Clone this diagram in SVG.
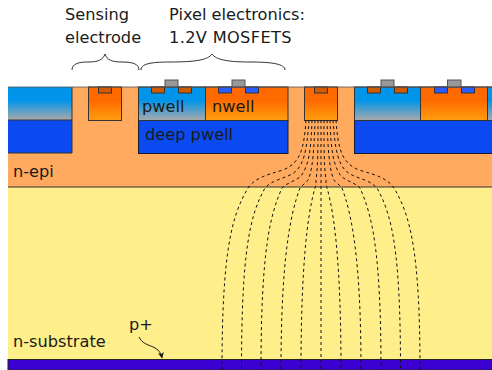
<svg xmlns="http://www.w3.org/2000/svg" width="492" height="370" viewBox="0 0 492 370">
<style>
text{font-family:"DejaVu Sans",Verdana,sans-serif;font-size:16.200px;fill:#1a1a1a}
.o{stroke:#333;stroke-width:1}
.pw{fill:url(#gp);stroke:#333;stroke-width:1}
.nw{fill:url(#gn);stroke:#333;stroke-width:1}
.dp{fill:#0a4af0;stroke:#1a1a2a;stroke-width:1}
.pwf{fill:url(#gp)}
.dpf{fill:#0a4af0}
.nc{fill:#d05a00;stroke:#333;stroke-width:1}
.pc{fill:#2a5cff;stroke:#333;stroke-width:1}
.g{fill:#999;stroke:#555;stroke-width:1}
.br{fill:none;stroke:#333;stroke-width:1}
.f{fill:none;stroke:#111;stroke-width:1;stroke-dasharray:3 3}
</style>
<defs>
<linearGradient id="gp" x1="0" y1="0" x2="0" y2="1"><stop offset="0" stop-color="#0094ea"/><stop offset=".4" stop-color="#0094ea"/><stop offset="1" stop-color="#aaa"/></linearGradient>
<linearGradient id="gn" x1="0" y1="0" x2="0" y2="1"><stop offset="0" stop-color="#ff6a00"/><stop offset=".4" stop-color="#ff6a00"/><stop offset="1" stop-color="#ff9e10"/></linearGradient>
<marker id="ah" markerWidth="7" markerHeight="7" refX="5.500" refY="3" orient="auto"><path d="M0 0L6 3L0 6L1.500 3Z" fill="#1a1a1a"/></marker>
<g id="fl">
<path class="f" d="M306 120C304 150 300 163 283 170C266 175 255 178 248 188C232 215 222 250 222 370"/>
<path class="f" d="M309 120C307 150 304 167 292 174C283 179 272 180 265 188C250 215 241.500 250 241.500 370"/>
<path class="f" d="M312 120C311 150 309 165 301 176C296 181 288 182 282 188C270 215 261 250 261 370"/>
<path class="f" d="M315 120C314 150 313 165 309 178C307 183 303 184 300 188C290 215 281 260 281 370"/>
<path class="f" d="M318 120C318 150 318 165 316 180C316 184 316 185 315 188C307 215 301 270 301 370"/>
</g>
</defs>
<g id="n-substrate">
<rect x="8" y="187" width="484" height="173" fill="#ffef8a"/>
<text x="13" y="347">n-substrate</text>
</g>
<g id="n-epi">
<rect x="8" y="87" width="484" height="100" fill="#ffaa5f"/>
<path d="M8 187H492" class="o"/>
<text x="13" y="177">n-epi</text>
</g>
<g id="p-plus">
<rect x="8" y="359.500" width="484" height="10.500" fill="#3c00d2" stroke="#222" stroke-width="1"/>
<text x="129" y="330">p+</text>
</g>
<g id="left-wells">
<rect class="dpf" x="8" y="120" width="64" height="33"/>
<rect class="pwf" x="8" y="87" width="64" height="33"/>
<path class="o" d="M72 87V153H8M8 120H72" fill="none"/>
</g>
<g id="sensing-electrode">
<rect class="nw" x="88.500" y="87" width="33" height="33.500"/>
<rect class="nc" x="98.500" y="87" width="13" height="6"/>
</g>
<g id="pixel-electronics">
<rect class="dp" x="138.500" y="120.500" width="149.500" height="33"/>
<rect class="pw" x="138.500" y="87" width="67" height="33.500"/>
<rect class="nw" x="205.500" y="87" width="82.500" height="33.500"/>
<rect class="nc" x="151.500" y="87" width="13" height="6"/>
<rect class="nc" x="178.500" y="87" width="13" height="6"/>
<rect class="g" x="165" y="80" width="13" height="7"/>
<rect class="pc" x="218.500" y="87" width="13" height="6"/>
<rect class="pc" x="245.500" y="87" width="13" height="6"/>
<rect class="g" x="232" y="80" width="13" height="7"/>
<text x="142" y="112">pwell</text>
<text x="212" y="112">nwell</text>
<text x="145" y="140">deep pwell</text>
</g>
<g id="collection-electrode">
<rect class="nw" x="304.500" y="87" width="33" height="33.500"/>
<rect class="nc" x="314.500" y="87" width="13" height="6"/>
</g>
<g id="right-wells">
<rect class="dp" x="354.500" y="120.500" width="138" height="33"/>
<rect class="pw" x="354.500" y="87" width="66" height="33.500"/>
<rect class="nw" x="420.500" y="87" width="67" height="33.500"/>
<rect class="pw" x="487.500" y="87" width="5" height="33.500"/>
<rect class="nc" x="367.500" y="87" width="13" height="6"/>
<rect class="nc" x="394.500" y="87" width="13" height="6"/>
<rect class="g" x="381" y="80" width="13" height="7"/>
<rect class="pc" x="434.500" y="87" width="13" height="6"/>
<rect class="pc" x="461.500" y="87" width="13" height="6"/>
<rect class="g" x="447.500" y="80" width="13.500" height="7"/>
</g>
<path d="M8 87H492" stroke="#555" stroke-width="1" opacity=".8"/>
<g id="connectors">
<use href="#fl"/>
<use href="#fl" transform="matrix(-1 0 0 1 642 0)"/>
<path class="f" d="M321 120V370"/>
<path class="br" d="M72 70C72 64 78 62 88 62C98 62 103 60 105 54C107 60 112 62 122 62C133 62 139 64 139 70"/>
<path class="br" d="M141 70C141 64 150 62 170 62C195 62 208 60 212 54C216 60 229 62 250 62C272 62 285 64 285 70"/>
<path d="M139 337C145 349 159 343 162 358" fill="none" stroke="#1a1a1a" stroke-width="1" marker-end="url(#ah)"/>
</g>
<g id="label-sensing"><text x="65" y="20">Sensing</text><text x="65" y="43">electrode</text></g>
<g id="label-pixel"><text x="169" y="20">Pixel electronics:</text><text x="169" y="43" style="letter-spacing:.35px">1.2V MOSFETS</text></g>
</svg>
